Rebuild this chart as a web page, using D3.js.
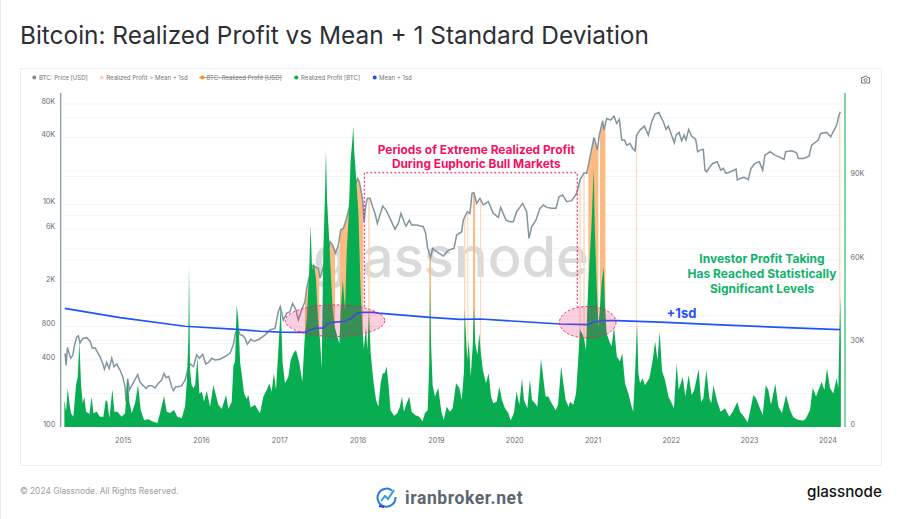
<!DOCTYPE html>
<html>
<head>
<meta charset="utf-8">
<script src="https://cdn.jsdelivr.net/npm/d3@7"></script>
<style>
  html, body { margin: 0; padding: 0; background: #fff; }
  svg { display: block; font-family: Inter, "Noto Sans", sans-serif; }
</style>
</head>
<body>
<svg id="chart" width="900" height="519"></svg>
<script>
const year_ticks = [2015, 2016, 2017, 2018, 2019, 2020, 2021, 2022, 2023, 2024]
const price_ticks = [100, 400, 800, 2000, 6000, 10000, 40000, 80000]
const price_grid = [200, 400, 600, 800, 1000, 2000, 4000, 6000, 8000, 10000, 20000, 40000, 60000, 80000]
const profit_ticks = [0, 30000, 60000, 90000]
const legend_items = [
  { name: 'BTC: Price [USD]', color: '#7c8f99', dot: 34.3, text: 39 },
  { name: 'Realized Profit > Mean + 1sd', color: '#fdd3b0', dot: 101.7, text: 106.3 },
  { name: 'BTC: Realized Profit [USD]', color: '#f7931a', dot: 202.3, text: 206.5, off: true },
  { name: 'Realized Profit [BTC]', color: '#07ad50', dot: 296.3, text: 301 },
  { name: 'Mean + 1sd', color: '#1f4ff5', dot: 374.7, text: 379 }
]

// [year, usd]
const btc_price = [
  [2014.264,459],[2014.277,358],[2014.294,520],[2014.315,459],[2014.336,415],[2014.362,440],[2014.387,550],[2014.413,648],
  [2014.434,660],[2014.455,570],[2014.489,625],[2014.541,635],[2014.583,590],[2014.613,510],[2014.647,515],[2014.677,470],
  [2014.711,428],[2014.745,373],[2014.766,330],[2014.796,380],[2014.826,335],[2014.86,415],[2014.89,348],[2014.924,368],
  [2014.966,325],[2015.0,283],[2015.03,230],[2015.043,170],[2015.064,272],[2015.085,215],[2015.115,235],[2015.158,268],
  [2015.192,295],[2015.222,252],[2015.264,235],[2015.298,222],[2015.332,235],[2015.371,235],[2015.413,224],[2015.456,247],
  [2015.498,264],[2015.528,303],[2015.554,277],[2015.588,285],[2015.626,230],[2015.647,212],[2015.677,230],[2015.711,230],
  [2015.754,235],[2015.796,264],[2015.83,325],[2015.86,370],[2015.903,348],[2015.945,445],[2015.98,415],[2016.022,450],
  [2016.06,368],[2016.103,385],[2016.137,415],[2016.18,400],[2016.243,407],[2016.307,430],[2016.371,459],[2016.414,550],
  [2016.439,700],[2016.469,760],[2016.499,675],[2016.533,665],[2016.563,625],[2016.592,555],[2016.635,615],[2016.678,590],
  [2016.741,615],[2016.817,670],[2016.881,744],[2016.945,770],[2016.987,1085],[2017.013,1205],[2017.051,915],[2017.094,1050],
  [2017.136,1085],[2017.17,1291],[2017.213,1125],[2017.243,915],[2017.285,1125],[2017.328,1340],[2017.349,1763],[2017.392,2404],
  [2017.413,2855],[2017.456,2757],[2017.499,2664],[2017.52,2166],[2017.562,2757],[2017.605,3300],[2017.648,4625],[2017.682,4316],
  [2017.716,3631],[2017.754,4316],[2017.784,5888],[2017.818,6095],[2017.852,7244],[2017.886,8913],[2017.911,10965],[2017.945,13020],
  [2017.975,15460],[2018.001,17140],[2018.022,16000],[2018.043,13470],[2018.065,10965],[2018.082,7000],[2018.103,9550],[2018.124,11350],
  [2018.158,11350],[2018.192,9550],[2018.222,8320],[2018.252,6760],[2018.286,8035],[2018.32,9680],[2018.363,8913],[2018.414,7500],
  [2018.478,5970],[2018.52,6760],[2018.554,8317],[2018.593,7000],[2018.618,6400],[2018.661,7240],[2018.69,6530],[2018.754,6530],
  [2018.839,6310],[2018.869,5500],[2018.895,4030],[2018.933,3340],[2018.959,4030],[2019.01,3760],[2019.095,3437],[2019.159,3890],
  [2019.231,4030],[2019.265,5310],[2019.329,5690],[2019.35,7240],[2019.401,8610],[2019.435,8317],[2019.461,12570],[2019.486,12740],
  [2019.52,10230],[2019.563,11350],[2019.606,9886],[2019.67,10590],[2019.733,8317],[2019.797,7650],[2019.827,9420],[2019.895,7240],
  [2019.946,7000],[2019.989,7000],[2020.031,8610],[2020.108,10230],[2020.159,8610],[2020.189,4950],[2020.223,6310],[2020.278,7240],
  [2020.329,9230],[2020.372,9886],[2020.415,9420],[2020.478,9230],[2020.534,9230],[2020.572,11740],[2020.619,12160],[2020.67,10590],
  [2020.734,10820],[2020.798,12570],[2020.841,16570],[2020.892,19280],[2020.926,19010],[2020.96,25060],[2021.019,40060],[2021.062,30810],
  [2021.087,42030],[2021.13,56530],[2021.147,46600],[2021.181,59340],[2021.232,57330],[2021.275,62230],[2021.309,53480],[2021.343,58130],
  [2021.373,37900],[2021.407,37900],[2021.437,34170],[2021.479,35380],[2021.513,31890],[2021.543,30400],[2021.564,42030],[2021.607,46600],
  [2021.662,50630],[2021.713,42030],[2021.756,55380],[2021.798,64900],[2021.849,67180],[2021.862,63560],[2021.905,55380],[2021.939,47260],
  [2021.968,50630],[2022.002,43500],[2022.045,35850],[2022.066,42030],[2022.105,44420],[2022.139,37370],[2022.169,42030],[2022.194,37900],
  [2022.228,47260],[2022.266,41170],[2022.318,38420],[2022.343,29770],[2022.373,30820],[2022.415,31240],[2022.437,20370],[2022.458,19680],
  [2022.5,21830],[2022.535,23390],[2022.594,24210],[2022.637,20370],[2022.671,21090],[2022.705,19010],[2022.764,19680],[2022.833,20800],
  [2022.85,16570],[2022.884,17150],[2022.935,17510],[2022.99,16800],[2023.024,21090],[2023.075,23390],[2023.13,24210],[2023.173,20370],
  [2023.203,27790],[2023.267,29770],[2023.331,27790],[2023.394,26480],[2023.446,25410],[2023.467,29770],[2023.544,30400],[2023.607,29160],
  [2023.629,25930],[2023.693,25930],[2023.765,27220],[2023.799,34170],[2023.884,37900],[2023.914,43500],[2023.99,44420],[2024.042,40600],
  [2024.097,48240],[2024.118,51700],[2024.148,63560],[2024.165,68000]
]

// [year, thousand BTC]
const realized_profit = [
  [2014.255,9.7],[2014.277,5.5],[2014.298,13.9],[2014.32,8.5],[2014.34,4.9],[2014.37,3.7],[2014.404,15.1],[2014.426,18],[2014.447,30.7],
  [2014.468,15.1],[2014.49,8.5],[2014.51,10.9],[2014.532,5.5],[2014.575,4.7],[2014.604,10.9],[2014.626,4.9],[2014.668,5.5],[2014.71,3.7],
  [2014.753,3.7],[2014.783,9.7],[2014.804,9.1],[2014.83,3.1],[2014.868,13.6],[2014.894,5.5],[2014.932,5.5],[2014.988,3.7],[2015.03,4.9],
  [2015.064,17.5],[2015.085,9],[2015.115,4.9],[2015.158,8.5],[2015.196,15.1],[2015.23,6.1],[2015.273,2.5],[2015.328,2.8],[2015.39,1.9],
  [2015.443,1.4],[2015.477,4.9],[2015.528,11.1],[2015.562,5.5],[2015.605,5],[2015.656,6.1],[2015.698,3.7],[2015.754,3.1],[2015.796,7.3],
  [2015.818,15.7],[2015.839,32],[2015.847,58],[2015.86,20.5],[2015.88,15.1],[2015.903,13.9],[2015.925,15],[2015.954,25],[2015.98,12],
  [2016.01,12.7],[2016.04,9.1],[2016.073,13],[2016.116,7.3],[2016.158,15.1],[2016.19,11.5],[2016.222,8],[2016.265,6.5],[2016.32,11.5],
  [2016.35,6.5],[2016.392,9.1],[2016.414,22],[2016.435,23.5],[2016.456,43.8],[2016.478,38],[2016.5,23],[2016.52,19],[2016.55,12],
  [2016.584,10],[2016.605,11.5],[2016.634,7],[2016.69,8],[2016.72,6.5],[2016.7535,4.9],[2016.796,10.9],[2016.839,13.3],[2016.873,15.7],
  [2016.902,12.7],[2016.932,19.3],[2016.958,13.3],[2016.988,27.7],[2017.018,43.3],[2017.043,22.9],[2017.073,15.7],[2017.115,18],
  [2017.145,24],[2017.18,26.5],[2017.213,27.7],[2017.256,23],[2017.294,16.3],[2017.328,33.7],[2017.35,38.5],[2017.379,54],[2017.4,72.7],
  [2017.418,56.5],[2017.443,59],[2017.469,53],[2017.494,38.5],[2017.52,31.3],[2017.541,21],[2017.562,62.5],[2017.584,84],[2017.596,99.7],
  [2017.609,81.7],[2017.635,68.5],[2017.66,54],[2017.68,43],[2017.707,36],[2017.741,32.5],[2017.767,30],[2017.788,43],[2017.81,53],
  [2017.84,42],[2017.86,62.5],[2017.886,75.7],[2017.911,96],[2017.933,103],[2017.945,108],[2017.958,98.5],[2017.98,90],[2018.01,77],
  [2018.04,48],[2018.065,33.7],[2018.08,28],[2018.107,36],[2018.124,27.7],[2018.145,41],[2018.167,26.5],[2018.2,17],[2018.235,9.7],
  [2018.265,7.3],[2018.295,15.7],[2018.32,19.3],[2018.346,19.3],[2018.371,21.7],[2018.397,14.5],[2018.42,6],[2018.465,4],[2018.507,4.9],
  [2018.54,7.3],[2018.567,10.9],[2018.592,5.5],[2018.627,8.5],[2018.66,10.9],[2018.69,5.5],[2018.733,4.3],[2018.788,3.7],[2018.83,2],
  [2018.86,5],[2018.895,6],[2018.916,23],[2018.925,51.7],[2018.937,31],[2018.958,15],[2018.988,11],[2019.03,14],[2019.07,5.5],[2019.1,2.5],
  [2019.137,7.3],[2019.18,5.5],[2019.214,6.7],[2019.257,15.7],[2019.3,14],[2019.33,9.7],[2019.36,20.5],[2019.367,42.7],[2019.38,35],
  [2019.4,24],[2019.42,31],[2019.444,18],[2019.47,29],[2019.486,43.3],[2019.503,30],[2019.53,26],[2019.555,33.7],[2019.572,27],[2019.6,20.5],
  [2019.64,15.7],[2019.674,19.3],[2019.704,11],[2019.733,8.5],[2019.776,9.1],[2019.81,14.5],[2019.844,9.7],[2019.882,6.7],[2019.925,5],
  [2019.955,2.3],[2019.997,5],[2020.03,12.7],[2020.066,8],[2020.1,17.5],[2020.125,9.7],[2020.168,6.7],[2020.2,17],[2020.227,9.7],[2020.265,8.5],
  [2020.295,7.3],[2020.32,15.7],[2020.342,24.4],[2020.37,18],[2020.4,11],[2020.436,11],[2020.478,8.5],[2020.53,6],[2020.56,8],[2020.6,21.7],
  [2020.627,15.7],[2020.657,9.7],[2020.695,7.3],[2020.713,9.1],[2020.755,8],[2020.79,12],[2020.815,23],[2020.84,35],[2020.866,33.7],
  [2020.89,32],[2020.917,27.7],[2020.934,43],[2020.95,53],[2020.968,62.5],[2020.985,71],[2021.0,81.7],[2021.015,93],[2021.03,70],[2021.054,50.5],
  [2021.075,36],[2021.096,43],[2021.117,51.7],[2021.143,57.7],[2021.16,43],[2021.18,33.7],[2021.215,30.7],[2021.245,29],[2021.275,36],
  [2021.31,25.3],[2021.35,23.5],[2021.38,26.5],[2021.415,15.7],[2021.458,12],[2021.5,7.3],[2021.52,5.5],[2021.547,21.7],[2021.569,37.3],
  [2021.586,19.3],[2021.607,15.7],[2021.64,17.5],[2021.67,15],[2021.726,17.5],[2021.769,24],[2021.8,30.7],[2021.83,24],[2021.858,34.3],
  [2021.888,20],[2021.926,17],[2021.969,11],[2022.011,8.5],[2022.04,6.7],[2022.075,23],[2022.1,13.3],[2022.152,18],[2022.186,11],[2022.228,18.7],
  [2022.267,11.5],[2022.3,13.3],[2022.356,20.8],[2022.386,9],[2022.416,10.3],[2022.454,20.5],[2022.492,10.3],[2022.518,8.5],[2022.544,15],
  [2022.595,9],[2022.637,5.5],[2022.692,6.7],[2022.748,3.7],[2022.79,5.5],[2022.85,9],[2022.884,5.5],[2022.935,3.7],[2022.982,1.6],[2023.025,7.3],
  [2023.054,11.5],[2023.088,10.3],[2023.131,7.3],[2023.174,4.3],[2023.212,15],[2023.246,13.3],[2023.28,8],[2023.335,15.5],[2023.374,7.3],
  [2023.42,5],[2023.472,11.5],[2023.523,6],[2023.565,3.5],[2023.629,2.5],[2023.693,2.3],[2023.723,3],[2023.778,6],[2023.812,14],[2023.855,11],
  [2023.927,16.3],[2023.961,13.3],[2023.995,21],[2024.033,14],[2024.076,12],[2024.118,17.5],[2024.14,14],[2024.153,32.5],[2024.165,47.4],[2024.172,30]
]

// [year, thousand BTC]
const mean_plus_1sd = [
  [2014.26,42.6],[2014.965,39.3],[2015.795,36.2],[2016.455,35.1],[2016.753,34.4],[2017.01,34.1],[2017.328,34],[2017.392,34.9],[2017.477,35.5],
  [2017.562,35.6],[2017.626,37.3],[2017.711,37.7],[2017.839,38],[2017.924,39.1],[2017.996,40.9],[2018.073,41.2],[2018.2,41.2],[2018.264,40.9],
  [2018.924,39.4],[2019.307,38.7],[2019.563,38.8],[2020.585,37],[2020.947,36.8],[2021.011,37.7],[2021.139,38.2],[2021.31,38.2],[2021.862,37.7],
  [2022.714,36.6],[2023.565,35.6],[2024.161,35]
]

// [start year, end year] of realized profit above mean + 1sd
const above_bands = [
  [2017.328,2017.511],[2017.56,2017.712],[2017.775,2018.07],[2018.916,2018.937],[2019.474,2019.5],[2020.947,2021.075],[2021.096,2021.165]
]
const brief_bands = [
  [2018.135,2018.155],[2019.36,2019.376],[2019.4,2019.414],[2019.563,2019.576],[2020.832,2020.85],[2020.883,2020.9],[2021.556,2021.569],[2024.15,2024.172]
]

const svg = d3.select('#chart')

const x = d3.scaleLinear().domain([2015, 2024]).range([122.7, 827.4])
const y_price = d3.scaleLog().domain([100, 80000]).range([427, 104])
const y_profit = d3.scaleLinear().domain([0, 120000]).range([427, 93])

function short_label(v) {
  return v >= 1000 ? (v / 1000) + 'K' : String(v)
}

function draw_frame() {
  svg.append('rect').attr('x', 0).attr('y', 0).attr('width', 1).attr('height', 519).attr('fill', '#e8e8e8')
  svg.append('rect').attr('x', 20.5).attr('y', 68.5).attr('width', 861).attr('height', 397)
    .attr('fill', '#fff').attr('stroke', '#efefef')

  svg.append('text').attr('x', 20).attr('y', 43.5).text('Bitcoin: Realized Profit vs Mean + 1 Standard Deviation')
    .attr('font-size', 24.4).attr('font-weight', 400).attr('fill', '#2c3035')
}

function draw_grid() {
  const g = svg.append('g').attr('stroke', '#f4f4f4')
  price_grid.forEach(v => {
    g.append('line').attr('x1', 64).attr('x2', 842).attr('y1', y_price(v)).attr('y2', y_price(v))
  })
  profit_ticks.slice(1).forEach(v => {
    g.append('line').attr('x1', 64).attr('x2', 842).attr('y1', y_profit(v)).attr('y2', y_profit(v))
  })
  svg.append('text').attr('x', 451).attr('y', 276.5).attr('text-anchor', 'middle').text('glassnode')
    .attr('font-size', 56).attr('font-weight', 500).attr('fill', '#dadada')
}

function draw_bands(bands, clip_id, color) {
  const clip = svg.append('clipPath').attr('id', clip_id)
  clip.selectAll('rect').data(bands).join('rect')
    .attr('x', d => x(d[0])).attr('width', d => x(d[1]) - x(d[0]))
    .attr('y', 93).attr('height', 334)

  const under_price = d3.area().x(d => x(d[0])).y0(y_price(100)).y1(d => y_price(d[1]))
  svg.append('path').datum(btc_price).attr('d', under_price)
    .attr('fill', color).attr('clip-path', `url(#${clip_id})`)
}

function draw_series() {
  draw_bands(brief_bands, 'brief', '#fdd6b6')
  draw_bands(above_bands, 'above', '#fdbb82')

  const price_line = d3.line().x(d => x(d[0])).y(d => y_price(d[1]))
  svg.append('path').datum(btc_price).attr('d', price_line)
    .attr('fill', 'none').attr('stroke', '#83959e').attr('stroke-width', 1.5)

  const profit_area = d3.area().x(d => x(d[0])).y0(y_profit(0)).y1(d => y_profit(d[1] * 1000))
  svg.append('path').datum(realized_profit).attr('d', profit_area).attr('fill', '#07ad50')

  const mean_line = d3.line().x(d => x(d[0])).y(d => y_profit(d[1] * 1000))
  svg.append('path').datum(mean_plus_1sd).attr('d', mean_line)
    .attr('fill', 'none').attr('stroke', '#1f55f5').attr('stroke-width', 1.7)
}

function draw_axes() {
  const label_color = '#666b70'

  const left = svg.append('g').attr('transform', 'translate(60.7,0)')
    .call(d3.axisLeft(y_price).tickValues(price_ticks).tickFormat(short_label).tickSize(0).tickPadding(5.5))
  left.select('.domain').remove()
  left.selectAll('text').attr('dy', '-0.1em')

  const right = svg.append('g').attr('transform', 'translate(845,0)')
    .call(d3.axisRight(y_profit).tickValues(profit_ticks).tickFormat(short_label).tickSize(0).tickPadding(5.5))
  right.select('.domain').remove()
  right.selectAll('text').attr('dy', '-0.1em')

  const bottom = svg.append('g').attr('transform', 'translate(0,427)')
    .call(d3.axisBottom(x).tickValues(year_ticks).tickFormat(d3.format('d')).tickSize(0).tickPadding(10.5))
  bottom.select('.domain').remove()

  svg.selectAll('.tick text').attr('font-family', 'Inter').attr('font-size', 7.2).attr('fill', label_color)

  svg.append('line').attr('x1', 60.7).attr('x2', 60.7).attr('y1', 93).attr('y2', 427)
    .attr('stroke', '#8b9aa3').attr('stroke-width', 1.3)
  svg.append('line').attr('x1', 845).attr('x2', 845).attr('y1', 93).attr('y2', 427)
    .attr('stroke', '#3dbd74').attr('stroke-width', 1.3)
}

function draw_legend() {
  legend_items.forEach(item => {
    if (item.off) {
      svg.append('line').attr('x1', item.dot - 3).attr('x2', item.text + 75.5).attr('y1', 77.5).attr('y2', 77.5)
        .attr('stroke', '#8a8a8a').attr('stroke-width', 0.6)
      svg.append('line').attr('x1', item.dot - 3).attr('x2', item.dot + 3).attr('y1', 77.5).attr('y2', 77.5)
        .attr('stroke', item.color).attr('stroke-width', 1)
    }
    svg.append('circle').attr('cx', item.dot).attr('cy', 77.5).attr('r', 2).attr('fill', item.color)
    svg.append('text').attr('x', item.text).attr('y', 79.8).text(item.name)
      .attr('font-size', 6.05).attr('fill', '#70767c')
  })

  const cam = svg.append('g').attr('transform', 'translate(861,76)')
    .attr('fill', 'none').attr('stroke', '#6a6a6a').attr('stroke-width', 0.9)
  cam.append('path').attr('d', 'M0.5 1.5H2.5L3.3 0.2H5.7L6.5 1.5H8.5V7H0.5Z')
  cam.append('circle').attr('cx', 4.5).attr('cy', 4).attr('r', 1.5)
}

function draw_annotations() {
  const pink = '#f0166d'

  svg.append('path').attr('d', 'M364.3 306.7V172.7H577.3V306.7')
    .attr('fill', 'none').attr('stroke', pink).attr('stroke-width', 1.1).attr('stroke-dasharray', '2 2')

  const ellipses = [[335, 320.7, 49.7, 15.8], [587.7, 322.3, 28.3, 15.8]]
  ellipses.forEach(e => {
    svg.append('ellipse').attr('cx', e[0]).attr('cy', e[1]).attr('rx', e[2]).attr('ry', e[3])
      .attr('fill', '#e8246f').attr('fill-opacity', 0.22)
      .attr('stroke', pink).attr('stroke-width', 0.9).attr('stroke-dasharray', '2.5 2')
  })

  const note = (text, x_pos, y_pos, color, size) => svg.append('text')
    .attr('x', x_pos).attr('y', y_pos).attr('text-anchor', 'middle').text(text)
    .attr('font-size', size).attr('font-weight', 700).attr('fill', color)

  note('Periods of Extreme Realized Profit', 476.3, 153.5, '#f5105f', 11.9)
  note('During Euphoric Bull Markets', 476.3, 167.5, '#f5105f', 11.9)
  note('Investor Profit Taking', 762, 262.5, '#10b26a', 12)
  note('Has Reached Statistically', 762, 278, '#10b26a', 12)
  note('Significant Levels', 762, 292.5, '#10b26a', 12)
  note('+1sd', 681.5, 318, '#1f55f5', 13)
}

function draw_footer() {
  svg.append('text').attr('x', 20).attr('y', 493.5).text('© 2024 Glassnode. All Rights Reserved.')
    .attr('font-size', 8.4).attr('fill', '#9a9ea2')

  const icon = svg.append('g').attr('transform', 'translate(376,487)').attr('fill', 'none')
  icon.append('path').attr('d', 'M16 3.5A9 9 0 1 0 19.5 10').attr('stroke', '#2a7de1').attr('stroke-width', 2)
  icon.append('path').attr('d', 'M5 14L9 9L12 12L18 3').attr('stroke', '#2a9be1').attr('stroke-width', 2)
  icon.append('path').attr('d', 'M3 19L8 20').attr('stroke', '#3a3fd0').attr('stroke-width', 2)

  svg.append('text').attr('x', 405).attr('y', 503.5).text('iranbroker.net')
    .attr('font-size', 17.5).attr('font-weight', 700).attr('fill', '#5b6670')
    .attr('font-family', 'Roboto').attr('letter-spacing', 0.6)

  svg.append('text').attr('x', 807).attr('y', 497).text('glassnode')
    .attr('font-size', 15.2).attr('font-weight', 500).attr('fill', '#111')
}

draw_frame()
draw_grid()
draw_series()
draw_axes()
draw_legend()
draw_annotations()
draw_footer()
</script>
</body>
</html>
